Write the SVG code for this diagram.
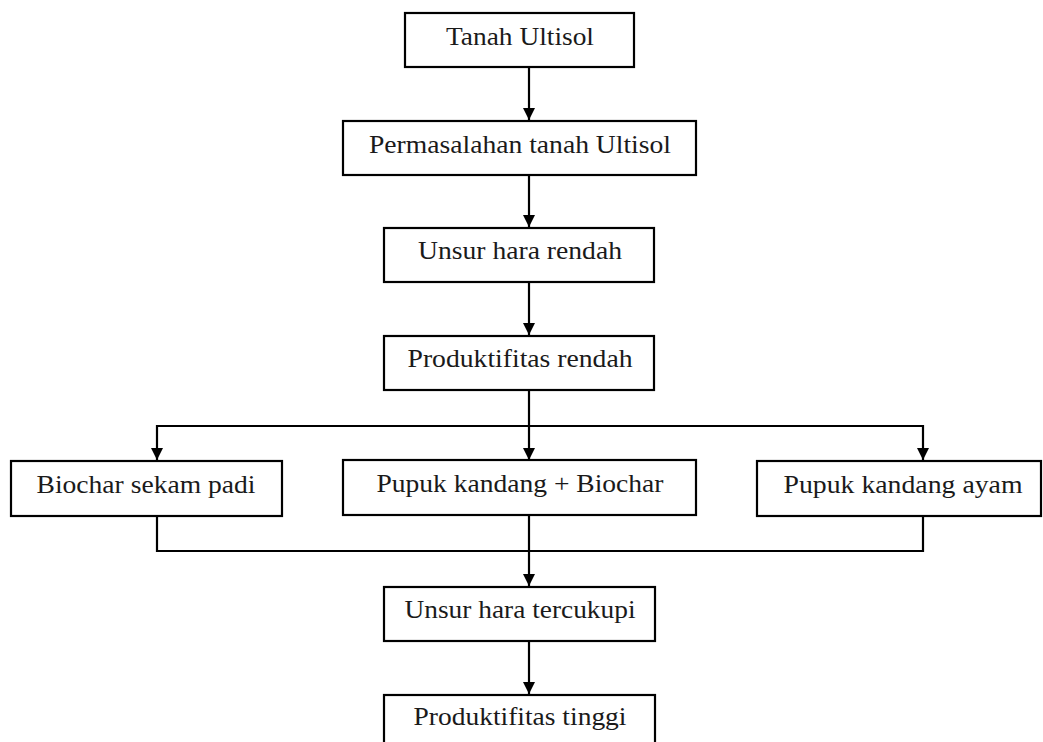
<svg xmlns="http://www.w3.org/2000/svg" width="1043" height="742" viewBox="0 0 1043 742">
<style>
  .box { fill: #ffffff; stroke: #000000; stroke-width: 2.2; }
  .lbl { font-family: 'Liberation Serif', serif; font-size: 25px; fill: #1a1a1a; text-anchor: middle; }
  .ln { fill: none; stroke: #000000; stroke-width: 2.2; }
  .ah { fill: #000000; }
</style>
<rect width="1043" height="742" fill="#ffffff"/>
<g id="connectors">
  <line class="ln" x1="529" y1="67" x2="529" y2="120"/>
  <polygon class="ah" points="523,108 535,108 529,120"/>
  <line class="ln" x1="529" y1="175" x2="529" y2="227"/>
  <polygon class="ah" points="523,215 535,215 529,227"/>
  <line class="ln" x1="529" y1="282" x2="529" y2="335"/>
  <polygon class="ah" points="523,323 535,323 529,335"/>
  <line class="ln" x1="529" y1="390" x2="529" y2="460"/>
  <polyline class="ln" points="157,460 157,426 923,426 923,460"/>
  <polygon class="ah" points="151,448 163,448 157,460"/>
  <polygon class="ah" points="523,448 535,448 529,460"/>
  <polygon class="ah" points="917,448 929,448 923,460"/>
  <polyline class="ln" points="157,516 157,551 923,551 923,516"/>
  <line class="ln" x1="529" y1="515" x2="529" y2="586"/>
  <polygon class="ah" points="523,574 535,574 529,586"/>
  <line class="ln" x1="529" y1="641" x2="529" y2="694"/>
  <polygon class="ah" points="523,682 535,682 529,694"/>
</g>
<g id="n1"><rect class="box" x="405" y="13" width="229" height="54"/><text class="lbl" x="520" y="45" textLength="148" lengthAdjust="spacingAndGlyphs">Tanah Ultisol</text></g>
<g id="n2"><rect class="box" x="343" y="121" width="353" height="54"/><text class="lbl" x="520" y="153" textLength="302" lengthAdjust="spacingAndGlyphs">Permasalahan tanah Ultisol</text></g>
<g id="n3"><rect class="box" x="384" y="228" width="270" height="54"/><text class="lbl" x="520" y="259" textLength="204" lengthAdjust="spacingAndGlyphs">Unsur hara rendah</text></g>
<g id="n4"><rect class="box" x="384" y="336" width="270" height="54"/><text class="lbl" x="520" y="367" textLength="225" lengthAdjust="spacingAndGlyphs">Produktifitas rendah</text></g>
<g id="n5"><rect class="box" x="11" y="461" width="271" height="55"/><text class="lbl" x="146" y="493" textLength="219" lengthAdjust="spacingAndGlyphs">Biochar sekam padi</text></g>
<g id="n6"><rect class="box" x="343" y="460" width="353" height="55"/><text class="lbl" x="520" y="492" textLength="287" lengthAdjust="spacingAndGlyphs">Pupuk kandang + Biochar</text></g>
<g id="n7"><rect class="box" x="757" y="461" width="284" height="55"/><text class="lbl" x="903" y="493" textLength="239" lengthAdjust="spacingAndGlyphs">Pupuk kandang ayam</text></g>
<g id="n8"><rect class="box" x="384" y="587" width="271" height="54"/><text class="lbl" x="520" y="618" textLength="231" lengthAdjust="spacingAndGlyphs">Unsur hara tercukupi</text></g>
<g id="n9"><rect class="box" x="384" y="695" width="271" height="60"/><text class="lbl" x="520" y="725" textLength="213" lengthAdjust="spacingAndGlyphs">Produktifitas tinggi</text></g>
</svg>
